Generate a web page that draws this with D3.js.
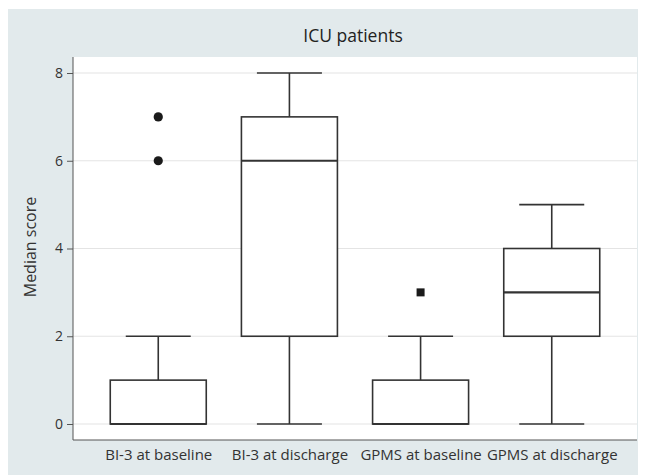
<!DOCTYPE html>
<html><head><meta charset="utf-8">
<script src="https://cdn.jsdelivr.net/npm/d3@7"></script>
<style>body{margin:0;background:#fff}svg{display:block;font-family:"Open Sans",sans-serif}</style>
</head><body><svg id="c" width="651" height="475"></svg>
<script>
const categories = ["BI-3 at baseline","BI-3 at discharge","GPMS at baseline","GPMS at discharge"];
const mins    = [0,0,0,0];
const q1s     = [0,2,0,2];
const medians = [0,6,0,3];
const q3s     = [1,7,1,4];
const maxs    = [2,8,2,5];
const outliers = [[6,7],[],[3],[]];
const outlierShapes = ["circle","circle","square","circle"];
const yTicks = [0,2,4,6,8];
const title = "ICU patients";
const yLabel = "Median score";

const svg = d3.select("#c");
const L=73,R=637,T=57,B=440;
svg.append("rect").attr("x",8).attr("y",9).attr("width",630).attr("height",466).attr("fill","#e2eaec");
svg.append("rect").attr("x",L).attr("y",T).attr("width",R-L).attr("height",B-T).attr("fill","#fff");

const x = d3.scalePoint().domain(categories).range([L,R]).padding(0.65);
const y = d3.scaleLinear().domain([0,8]).range([424,73]);

svg.append("g").selectAll("line").data(yTicks).join("line")
 .attr("x1",L).attr("x2",R).attr("y1",d=>y(d)).attr("y2",d=>y(d))
 .attr("stroke","#e4e4e4").attr("stroke-width",1.2);

const yAx = svg.append("g").attr("transform",`translate(${L},0)`)
 .call(d3.axisLeft(y).tickValues(yTicks).tickSize(6).tickPadding(4).tickFormat(d3.format("d")));
yAx.select(".domain").attr("d",`M0,${T}V${B}`).attr("stroke","#555");
yAx.selectAll(".tick line").attr("stroke","#555");
yAx.selectAll("text").attr("font-size",14).attr("fill","#333").attr("font-family","Open Sans");

const xAx = svg.append("g").attr("transform",`translate(0,${B})`)
 .call(d3.axisBottom(x).tickSize(0).tickPadding(9));
xAx.select(".domain").attr("d",`M${L},0H${R}`).attr("stroke","#555");
xAx.selectAll("text").attr("font-size",15).attr("fill","#333").attr("font-family","Open Sans");

const bw=96, cw=65, col="#333";
categories.forEach((c,i)=>{
  const cx=x(c);
  const g=svg.append("g").attr("stroke",col).attr("fill","none").attr("stroke-width",1.6);
  g.append("line").attr("x1",cx).attr("x2",cx).attr("y1",y(maxs[i])).attr("y2",y(q3s[i]));
  g.append("line").attr("x1",cx).attr("x2",cx).attr("y1",y(q1s[i])).attr("y2",y(mins[i]));
  g.append("line").attr("x1",cx-cw/2).attr("x2",cx+cw/2).attr("y1",y(maxs[i])).attr("y2",y(maxs[i]));
  if(mins[i]!==q1s[i]) g.append("line").attr("x1",cx-cw/2).attr("x2",cx+cw/2).attr("y1",y(mins[i])).attr("y2",y(mins[i]));
  g.append("rect").attr("x",cx-bw/2).attr("width",bw).attr("y",y(q3s[i])).attr("height",y(q1s[i])-y(q3s[i])).attr("fill","#fff");
  g.append("line").attr("x1",cx-bw/2).attr("x2",cx+bw/2).attr("y1",y(medians[i])).attr("y2",y(medians[i])).attr("stroke-width",2.2);
  outliers[i].forEach(v=>{
    if(outlierShapes[i]==="square")
      svg.append("rect").attr("x",cx-4).attr("y",y(v)-4).attr("width",8).attr("height",8).attr("fill","#1a1a1a");
    else
      svg.append("circle").attr("cx",cx).attr("cy",y(v)).attr("r",4.6).attr("fill","#1a1a1a");
  });
});

svg.append("text").attr("x",353).attr("y",42).attr("text-anchor","middle")
 .attr("font-size",17.5).attr("fill","#222").text(title);
svg.append("text").attr("transform","translate(36,247) rotate(-90)").attr("text-anchor","middle")
 .attr("font-size",16).attr("fill","#333").text(yLabel);
</script></body></html>
